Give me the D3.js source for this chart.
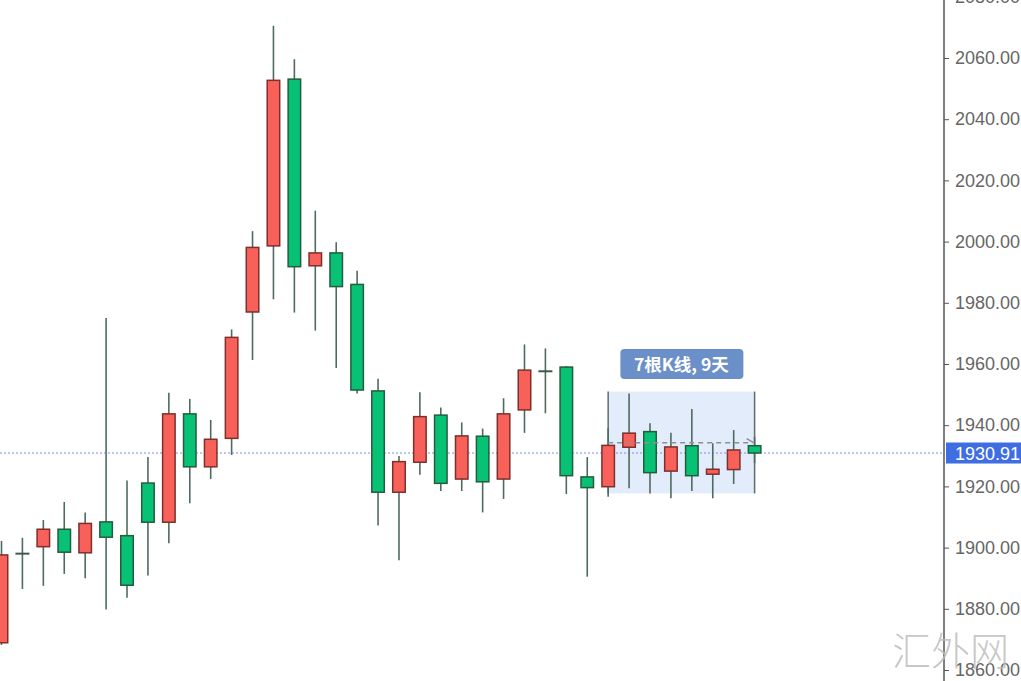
<!DOCTYPE html>
<html>
<head>
<meta charset="utf-8">
<script src="https://cdn.jsdelivr.net/npm/d3@7"></script>
<style>
  body { margin: 0; background: #fff; }
  svg { display: block; }
  .axis text { font-family: "Liberation Sans", Arial, sans-serif; font-size: 18px; fill: #666; }
  .axis path, .axis line { stroke: #555; }
</style>
</head>
<body>
<svg width="1021" height="681"></svg>
<script>
// one bar per trading day, left to right
var bars = d3.range(1, 38).map(function(d){ return 'K' + d; });

var opens  = [1868.9, 1898.1, 1900.3, 1906.0, 1898.3, 1908.4, 1903.9, 1921.1, 1908.3, 1943.7,
              1926.4, 1935.7, 1977.0, 1998.6, 2053.1, 1992.1, 1996.3, 1986.0, 1951.2, 1918.1,
              1927.9, 1943.3, 1922.4, 1936.4, 1922.4, 1945.0, 1957.7, 1959.0, 1923.1, 1919.9,
              1932.8, 1937.9, 1925.0, 1933.3, 1924.0, 1925.5, 1933.3];
var highs  = [1902.2, 1903.2, 1909.0, 1914.9, 1911.5, 1975.0, 1921.9, 1929.6, 1950.6, 1948.6,
              1941.7, 1971.3, 2003.4, 2070.5, 2059.6, 2010.1, 1999.8, 1990.5, 1955.2, 1929.9,
              1950.8, 1945.8, 1940.9, 1938.9, 1948.8, 1966.4, 1965.1, 1959.3, 1929.6, 1939.0,
              1950.4, 1940.6, 1937.5, 1945.3, 1934.1, 1938.4, 1936.2];
var lows   = [1868.2, 1886.5, 1887.5, 1891.4, 1890.0, 1879.8, 1883.6, 1890.9, 1901.4, 1914.5,
              1922.4, 1930.3, 1961.3, 1981.2, 1976.8, 1970.9, 1958.7, 1950.4, 1907.2, 1895.9,
              1923.8, 1918.5, 1918.5, 1911.5, 1915.9, 1937.5, 1943.9, 1917.5, 1890.5, 1916.6,
              1919.4, 1917.7, 1916.1, 1918.5, 1916.1, 1920.8, 1927.6];
var closes = [1897.6, 1898.1, 1906.0, 1898.5, 1907.9, 1903.4, 1887.7, 1908.3, 1943.7, 1926.4,
              1935.4, 1968.7, 1998.1, 2052.7, 1991.8, 1996.3, 1985.3, 1951.5, 1918.1, 1928.1,
              1942.8, 1921.0, 1936.5, 1921.5, 1943.7, 1958.0, 1957.7, 1923.5, 1919.6, 1933.4,
              1937.4, 1924.5, 1932.9, 1923.5, 1925.6, 1931.9, 1930.91];

var yTicks = [1860, 1880, 1900, 1920, 1940, 1960, 1980, 2000, 2020, 2040, 2060, 2080];
var lastPrice = 1930.91;

// range measurement drawn over the last bars
var rangeBars = ['K30', 'K37'];
var rangeLow = 1917.7, rangeHigh = 1951.0, rangeArrow = 1934.3;
var rangeLabel = '7根K线, 9天';

var candles = bars.map(function(b, i){
    return { bar: b, open: opens[i], high: highs[i], low: lows[i], close: closes[i] };
});

var svg = d3.select('svg');

var xScale = d3.scalePoint()
    .domain(bars)
    .range([1.5, 754.6]);

var yScale = d3.scaleLinear()
    .domain([1860, 2060])
    .range([670, 58]);

var bodyW = 12.5;

function fillOf(d){
    if (d.close === d.open) return '#3f5a4c';
    return d.close > d.open ? '#f8615a' : '#07c274';
}
function strokeOf(d){
    if (d.close === d.open) return '#3f5a4c';
    return d.close > d.open ? '#7d2f2c' : '#245c3e';
}

// range box (behind candles)
var bx0 = xScale(rangeBars[0]), bx1 = xScale(rangeBars[1]);
svg.append('rect')
    .attr('x', bx0)
    .attr('y', yScale(rangeHigh))
    .attr('width', bx1 - bx0)
    .attr('height', yScale(rangeLow) - yScale(rangeHigh))
    .style('fill', '#e2ecfb');

svg.selectAll('line.edge')
    .data([bx0, bx1])
    .enter()
    .append('line')
    .attr('class', 'edge')
    .attr('x1', function(d){ return d; })
    .attr('x2', function(d){ return d; })
    .attr('y1', yScale(rangeHigh))
    .attr('y2', yScale(rangeLow))
    .style('stroke', '#5f6e6a')
    .style('stroke-width', 1.5);

// last price line
svg.append('line')
    .attr('x1', 0)
    .attr('x2', 944)
    .attr('y1', yScale(lastPrice))
    .attr('y2', yScale(lastPrice))
    .style('stroke', '#7393ea')
    .style('stroke-width', 1)
    .style('stroke-dasharray', '2,2');

// wicks
svg.selectAll('line.wick')
    .data(candles)
    .enter()
    .append('line')
    .attr('class', 'wick')
    .attr('x1', function(d){ return xScale(d.bar); })
    .attr('x2', function(d){ return xScale(d.bar); })
    .attr('y1', function(d){ return yScale(d.high); })
    .attr('y2', function(d){ return yScale(d.low); })
    .style('stroke', '#4f6b5e')
    .style('stroke-width', 1.6);

// bodies
svg.selectAll('rect.body')
    .data(candles)
    .enter()
    .append('rect')
    .attr('class', 'body')
    .attr('x', function(d){ return xScale(d.bar) - bodyW / 2; })
    .attr('y', function(d){ return yScale(Math.max(d.open, d.close)); })
    .attr('width', bodyW)
    .attr('height', function(d){
        return Math.max(0.5, Math.abs(yScale(d.open) - yScale(d.close)));
    })
    .style('fill', fillOf)
    .style('stroke', strokeOf)
    .style('stroke-width', 1.5);

// dashed arrow inside the range box
var ay = yScale(rangeArrow);
svg.append('line')
    .attr('x1', bx0)
    .attr('x2', bx1 - 2)
    .attr('y1', ay)
    .attr('y2', ay)
    .style('stroke', '#8a8f98')
    .style('stroke-width', 1.5)
    .style('stroke-dasharray', '5,4');
svg.append('path')
    .attr('d', 'M' + (bx1 - 8) + ',' + (ay - 4) + 'L' + (bx1 - 1) + ',' + ay)
    .style('stroke', '#8a8f98')
    .style('stroke-width', 1.5)
    .style('fill', 'none');

// range label
var lx = (bx0 + bx1) / 2;
svg.append('rect')
    .attr('x', lx - 61)
    .attr('y', 349)
    .attr('width', 123)
    .attr('height', 30)
    .attr('rx', 4)
    .style('fill', '#6b8fc8');
svg.append('text')
    .attr('x', lx)
    .attr('y', 370.5)
    .attr('text-anchor', 'middle')
    .style('font-family', '"Noto Sans CJK SC", "Noto Sans", sans-serif')
    .style('font-size', '17.5px')
    .style('font-weight', 'bold')
    .style('fill', '#fff')
    .text(rangeLabel);

// price axis
var yAxis = d3.axisRight(yScale)
    .tickValues(yTicks)
    .tickSize(5)
    .tickPadding(6)
    .tickFormat(d3.format('.2f'));

var yAxisG = svg.append('g')
    .attr('class', 'y axis')
    .attr('transform', 'translate(944,0)')
    .call(yAxis);
yAxisG.select('.domain')
    .attr('d', 'M0,-10V700')
    .style('stroke-width', 1.5);

// last price tag
var py = yScale(lastPrice);
svg.append('rect')
    .attr('x', 946)
    .attr('y', py - 10.5)
    .attr('width', 76)
    .attr('height', 21)
    .style('fill', '#3f6ee2');
svg.append('text')
    .attr('x', 955)
    .attr('y', py + 6.5)
    .style('font-family', '"Liberation Sans", Arial, sans-serif')
    .style('font-size', '18px')
    .style('fill', '#fff')
    .text(d3.format('.2f')(lastPrice));

// watermark
svg.append('text')
    .attr('x', 892)
    .attr('y', 665)
    .style('font-family', '"Noto Sans CJK SC", sans-serif')
    .style('font-size', '39px')
    .style('font-weight', 300)
    .style('fill', '#bdbdbd')
    .style('fill-opacity', 0.85)
    .text('汇外网');
</script>
</body>
</html>
